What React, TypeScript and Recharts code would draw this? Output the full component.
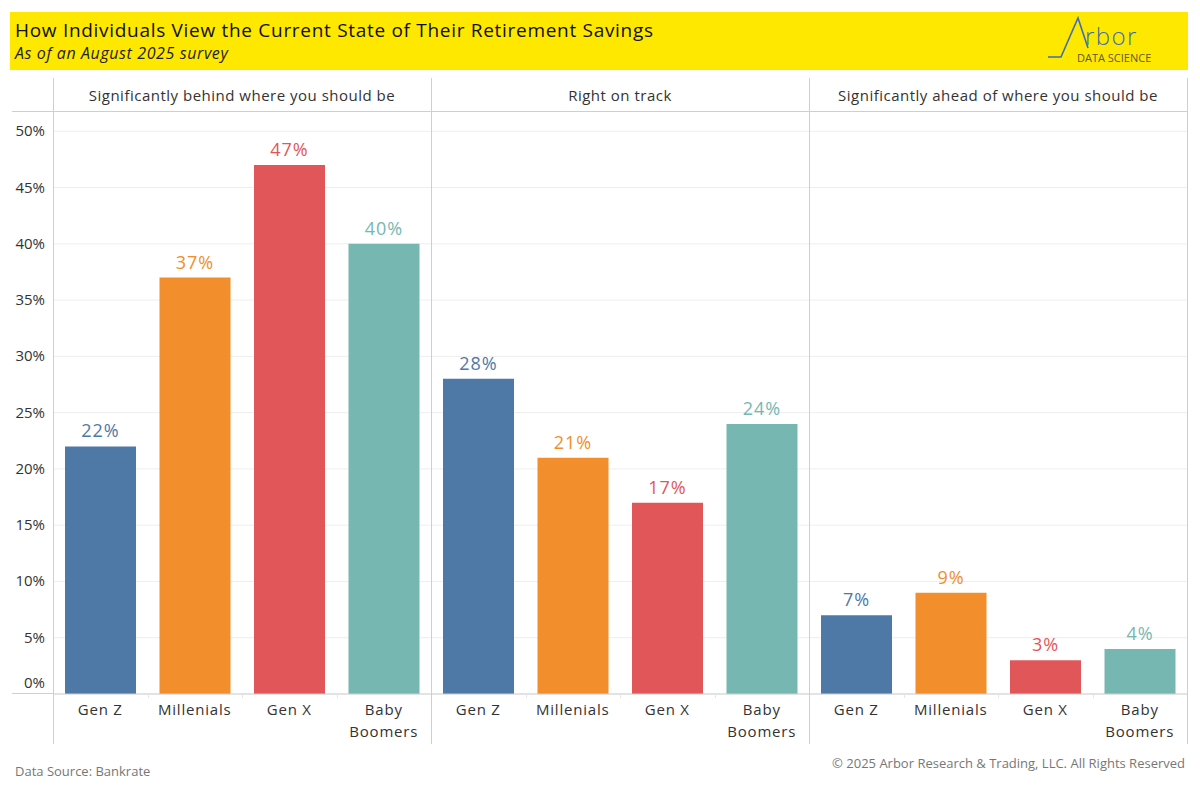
import React from 'react';
import { BarChart, Bar, XAxis, YAxis, CartesianGrid, Cell, LabelList, Text } from 'recharts';

const categories = ['Gen Z', 'Millenials', 'Gen X', 'Baby Boomers'];
const panelTitles = [
  'Significantly behind where you should be',
  'Right on track',
  'Significantly ahead of where you should be',
];
const behindValues = [22, 37, 47, 40];
const onTrackValues = [28, 21, 17, 24];
const aheadValues = [7, 9, 3, 4];
const yTicks = [0, 5, 10, 15, 20, 25, 30, 35, 40, 45, 50];
const colors = ['#4e79a7', '#f28e2b', '#e15759', '#76b7b2'];

const panelValues = [behindValues, onTrackValues, aheadValues];

const FONT = '"Open Sans", "Noto Sans", sans-serif';
const LINE = '#cfcfcf';

const XTick = (props: any) => {
  const { x, y, payload } = props;
  return (
    <Text
      x={x}
      y={y + 2}
      width={85}
      textAnchor="middle"
      verticalAnchor="start"
      lineHeight={22}
      fontSize={15}
      letterSpacing={0.8}
      fill="#333"
      fontFamily={FONT}
    >
      {payload.value}
    </Text>
  );
};

const YTick = (props: any) => {
  const { x, y, payload } = props;
  const yy = payload.value === 0 ? y - 11 : y;
  return (
    <text x={x} y={yy} dy={5} textAnchor="end" fontSize={15} fill="#333" fontFamily={FONT}>
      {payload.value}%
    </text>
  );
};

const Panel = ({ values, withAxis }: { values: number[]; withAxis: boolean }) => {
  const data = categories.map((c, i) => ({ name: c, value: values[i] }));
  return (
    <BarChart
      width={withAxis ? 419 : 378}
      height={653}
      data={data}
      margin={{ top: 0, right: 0, bottom: 0, left: 0 }}
    >
      <CartesianGrid vertical={false} stroke="#eeeeee" />
      <XAxis
        dataKey="name"
        axisLine={{ stroke: LINE }}
        tickLine={false}
        height={70}
        interval={0}
        tick={<XTick />}
      />
      <YAxis
        hide={!withAxis}
        width={41}
        domain={[0, 51.8]}
        ticks={yTicks}
        axisLine={false}
        tickLine={false}
        tickSize={0}
        tickMargin={8}
        tick={<YTick />}
      />
      <Bar dataKey="value" barSize={71} isAnimationActive={false}>
        {data.map((d, i) => (
          <Cell key={d.name} fill={colors[i]} />
        ))}
        <LabelList
          dataKey="value"
          position="top"
          content={(p: any) => {
            const { x, y, width, value, index } = p;
            return (
              <text
                x={x + width / 2}
                y={y - 9}
                textAnchor="middle"
                fontSize={18}
                letterSpacing={1}
                fill={colors[index]}
                fontFamily={FONT}
              >
                {value}%
              </text>
            );
          }}
        />
      </Bar>
    </BarChart>
  );
};

const abs = (s: React.CSSProperties): React.CSSProperties => ({ position: 'absolute', ...s });

export default function App() {
  const panelLefts = [53, 431, 809];
  return (
    <div style={abs({ left: 0, top: 0, width: 1200, height: 800, background: '#fff', fontFamily: FONT, overflow: 'hidden' })}>
      {/* header band */}
      <div style={abs({ left: 10, top: 12, width: 1178, height: 58, background: '#ffe800' })} />
      <div style={abs({ left: 15, top: 17, fontSize: 19, letterSpacing: 0.7, color: '#111', whiteSpace: 'nowrap' })}>
        How Individuals View the Current State of Their Retirement Savings
      </div>
      <div style={abs({ left: 15, top: 42, fontSize: 16, letterSpacing: 0.6, fontStyle: 'italic', color: '#222', whiteSpace: 'nowrap' })}>
        As of an August 2025 survey
      </div>
      {/* logo */}
      <svg style={abs({ left: 1040, top: 12, width: 148, height: 58 })} width={148} height={58}>
        <polyline
          points="8,45 21,45 38,6 48,36"
          fill="none"
          stroke="#3d6fb0"
          strokeWidth={1.6}
        />
        <text x={45} y={33} fontSize={24} letterSpacing={1.4} fill="#3d6fb0" fontFamily={FONT} fontWeight={300}>
          rbor
        </text>
        <text x={37} y={50} fontSize={11} fill="#5a5a3a" fontFamily={FONT}>
          DATA SCIENCE
        </text>
      </svg>

      {/* panel header texts */}
      {panelTitles.map((t, i) => (
        <div
          key={t}
          style={abs({ left: panelLefts[i], top: 85, width: 378, textAlign: 'center', fontSize: 15, letterSpacing: 0.5, color: '#333', whiteSpace: 'nowrap' })}
        >
          {t}
        </div>
      ))}

      {/* charts */}
      <div style={abs({ left: 12, top: 111 })}>
        <Panel values={panelValues[0]} withAxis={true} />
      </div>
      <div style={abs({ left: 431, top: 111 })}>
        <Panel values={panelValues[1]} withAxis={false} />
      </div>
      <div style={abs({ left: 809, top: 111 })}>
        <Panel values={panelValues[2]} withAxis={false} />
      </div>

      {/* frame lines */}
      <div style={abs({ left: 12, top: 111, width: 1175, height: 1, background: LINE })} />
      <div style={abs({ left: 12, top: 693, width: 41, height: 1, background: LINE })} />
      {[53, 431, 809, 1187].map((x) => (
        <div key={x} style={abs({ left: x, top: 78, width: 1, height: 666, background: LINE })} />
      ))}
      {panelLefts.map((pl) =>
        [1, 2, 3].map((k) => (
          <div
            key={`${pl}-${k}`}
            style={abs({ left: Math.round(pl + 94.5 * k), top: 694, width: 1, height: 4, background: '#e6e6e6' })}
          />
        ))
      )}

      {/* footer */}
      <div style={abs({ left: 15, top: 762, fontSize: 13, color: '#777', whiteSpace: 'nowrap' })}>
        Data Source: Bankrate
      </div>
      <div style={abs({ right: 15, top: 754, fontSize: 13, color: '#777', whiteSpace: 'nowrap' })}>
        © 2025 Arbor Research &amp; Trading, LLC. All Rights Reserved
      </div>
    </div>
  );
}
